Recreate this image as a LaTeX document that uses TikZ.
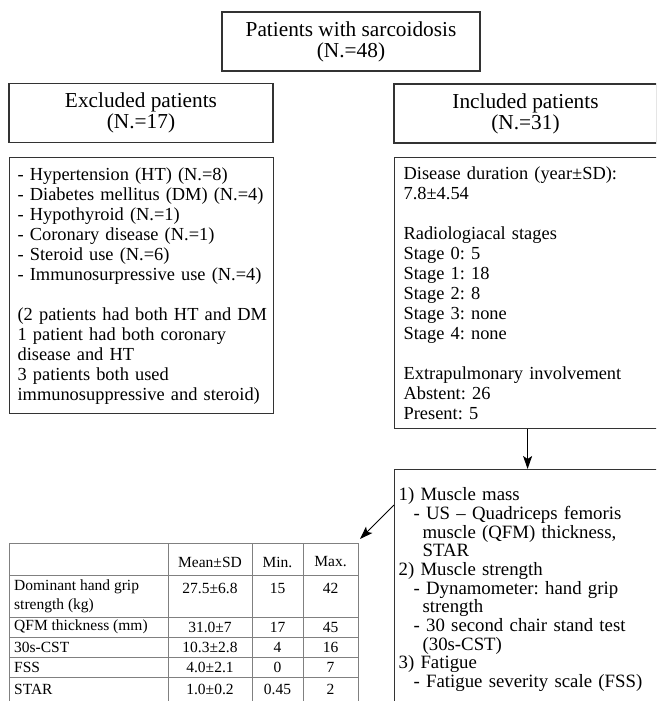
\documentclass[tikz,border=0pt]{standalone}
\usepackage{fontspec}
\setmainfont{Liberation Serif}
\usetikzlibrary{arrows.meta,calc}
\definecolor{boxline}{HTML}{333333}
\definecolor{tabline}{HTML}{808080}
\frenchspacing
\begin{document}
\begin{tikzpicture}[x=1pt,y=-1pt,
  hdr/.style={draw=boxline, line width=1.2pt, minimum width=#1, minimum height=59pt, inner sep=0pt, align=center, font=\frenchspacing\fontsize{21.3}{21}\selectfont},
  listbox/.style={draw=boxline, line width=1.2pt, anchor=north west, align=left, font=\frenchspacing\fontsize{18.4}{20}\selectfont},
  cell/.style={inner sep=0pt, font=\fontsize{15.5}{19}\selectfont},
  arr/.style={draw=black, line width=1pt, -{Stealth[length=13pt,width=9pt,inset=3pt]}},
  tab/.style={draw=tabline, line width=1pt}]
\clip (0,0) rectangle (656,701);
\useasboundingbox (0,0) rectangle (656,701);

\node[hdr=258pt] (top) at (351,41.5) {Patients with sarcoidosis\\(N.=48)};
\node[hdr=264pt] (exh) at (141,113) {Excluded patients\\(N.=17)};
\node[hdr=263pt] (inh) at (525.5,113.5) {Included patients\\(N.=31)};

\node[listbox, minimum width=264pt, minimum height=256pt, text width=252pt, inner xsep=6pt] (exl) at (9,157) {%
\hspace*{2pt}- Hypertension (HT) (N.=8)\\
\hspace*{2pt}- Diabetes mellitus (DM) (N.=4)\\
\hspace*{2pt}- Hypothyroid (N.=1)\\
\hspace*{2pt}- Coronary disease (N.=1)\\
\hspace*{2pt}- Steroid use (N.=6)\\
\hspace*{2pt}- Immunosurpressive use (N.=4)\\[20pt]
\hspace*{2pt}(2 patients had both HT and DM\\
\hspace*{2pt}1 patient had both coronary\\
\hspace*{2pt}disease and HT\\
\hspace*{2pt}3 patients both used\\
\hspace*{2pt}immunosuppressive and steroid)};

\node[listbox, minimum width=263pt, minimum height=271pt, text width=245pt, inner xsep=9pt] (inl) at (394,157) {%
Disease duration (year±SD):\\
7.8±4.54\\[20pt]
Radiologiacal stages\\
Stage 0: 5\\
Stage 1: 18\\
Stage 2: 8\\
Stage 3: none\\
Stage 4: none\\[20pt]
Extrapulmonary involvement\\
Abstent: 26\\
Present: 5};

\node[listbox, minimum width=263pt, text width=255pt, inner xsep=4pt, inner ysep=18pt, font=\frenchspacing\fontsize{18.8}{18.7}\selectfont] (bot) at (394,469) {%
1) Muscle mass\\
\hspace*{15pt}- US – Quadriceps femoris\\
\hspace*{24pt}muscle (QFM) thickness,\\
\hspace*{24pt}STAR\\
2) Muscle strength\\
\hspace*{15pt}- Dynamometer: hand grip\\
\hspace*{24pt}strength\\
\hspace*{15pt}- 30 second chair stand test\\
\hspace*{24pt}(30s-CST)\\
3) Fatigue\\
\hspace*{15pt}- Fatigue severity scale (FSS)};

% table
\node[tab, anchor=north west, minimum width=349pt, minimum height=180pt, inner sep=0pt] (tbl) at (9,543) {};
\draw[tab] (9,575) -- (358,575) (9,617) -- (358,617) (9,637) -- (358,637)
  (9,657) -- (358,657) (9,677) -- (358,677)
  (168,543) -- (168,723) (252,543) -- (252,723) (303,543) -- (303,723);

\node[cell] (h2) at (210,562) {Mean±SD};
\node[cell] (h3) at (277.5,562) {Min.};
\node[cell] (h4) at (330.5,562) {Max.};

\node[cell, anchor=north west, align=left, inner sep=0pt] (r1) at (14,580) {Dominant hand grip\\strength (kg)};
\node[cell] (r1b) at (210,588) {27.5±6.8};
\node[cell] (r1c) at (277.5,588) {15};
\node[cell] (r1d) at (330.5,588) {42};

\node[cell, anchor=west] (r2) at (14,627) {QFM thickness (mm)};
\node[cell] (r2b) at (210,627) {31.0±7};
\node[cell] (r2c) at (277.5,627) {17};
\node[cell] (r2d) at (330.5,627) {45};

\node[cell, anchor=west] (r3) at (14,647) {30s-CST};
\node[cell] (r3b) at (210,647) {10.3±2.8};
\node[cell] (r3c) at (277.5,647) {4};
\node[cell] (r3d) at (330.5,647) {16};

\node[cell, anchor=west] (r4) at (14,667) {FSS};
\node[cell] (r4b) at (210,667) {4.0±2.1};
\node[cell] (r4c) at (277.5,667) {0};
\node[cell] (r4d) at (330.5,667) {7};

\node[cell, anchor=west] (r5) at (14,689) {STAR};
\node[cell] (r5b) at (210,689) {1.0±0.2};
\node[cell] (r5c) at (277.5,689) {0.45};
\node[cell] (r5d) at (330.5,689) {2};

% connectors
\draw[arr] (inl.south) ++(1.5,0) coordinate (a1) -- (a1 |- bot.north);
\draw[arr] ($(bot.north west)+(0,36)$) -- ($(tbl.north east)+(1,-4)$);
\end{tikzpicture}
\end{document}
